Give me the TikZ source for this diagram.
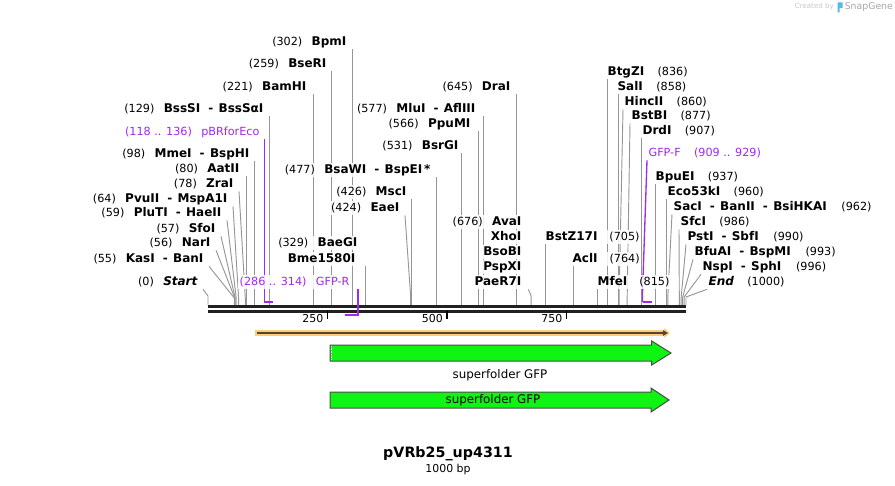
\documentclass[tikz,border=0pt]{standalone}
\usepackage{fontspec}
\setmainfont{DejaVu Sans}
\usetikzlibrary{arrows.meta,backgrounds}

\definecolor{primer}{RGB}{160,40,240}
\definecolor{sitegray}{RGB}{150,150,150}
\definecolor{featgreen}{RGB}{14,245,20}
\definecolor{orfhalo}{RGB}{255,203,125}
\definecolor{orfdark}{RGB}{85,68,51}
\definecolor{sgblue}{RGB}{80,185,240}

\newcommand{\nm}[1]{{\fontsize{9}{10}\selectfont\bfseries #1}}
\newcommand{\orsep}{\hspace{6pt}\nm{-}\hspace{4pt}}

\tikzset{
  lbl/.style={fill=white,fill opacity=0.85,text opacity=1,inner sep=1pt,
    text height=6.6pt,text depth=2pt,font=\fontsize{8.4}{10}\selectfont},
  prim/.style={lbl,text=primer},
  site/.style={draw=sitegray,line width=0.7pt},
  primln/.style={draw=primer,line width=1pt},
  primbar/.style={draw=primer,line width=1.5pt},
  backbone/.style={draw=black!87,line width=1.9pt},
  ticklbl/.style={font=\fontsize{8.2}{10}\selectfont,inner sep=0pt},
  feat/.style={fill=featgreen,draw=black!70,line width=0.75pt},
  featlbl/.style={font=\fontsize{8.9}{10}\selectfont,inner sep=0pt},
}

\begin{document}
\begin{tikzpicture}[x=0.75pt,y=-0.75pt]
\useasboundingbox (0,0) rectangle (895,485);

% backbone ends and cut sites
\coordinate (bbL) at (208,305);
\coordinate (bbR) at (686,305);
\coordinate (s0) at (208.0,305);
\coordinate (s55) at (234.3,305);
\coordinate (s56) at (234.8,305);
\coordinate (s57) at (235.2,305);
\coordinate (s59) at (236.2,305);
\coordinate (s64) at (238.6,305);
\coordinate (s78) at (245.3,305);
\coordinate (s80) at (246.2,305);
\coordinate (s98) at (254.8,305);
\coordinate (s118) at (264.4,305);
\coordinate (s129) at (269.7,305);
\coordinate (s136) at (273.0,305);
\coordinate (s221) at (313.6,305);
\coordinate (s259) at (331.8,305);
\coordinate (s286) at (344.7,305);
\coordinate (s302) at (352.4,305);
\coordinate (s314) at (358.1,305);
\coordinate (s329) at (365.3,305);
\coordinate (s424) at (410.7,305);
\coordinate (s426) at (411.6,305);
\coordinate (s477) at (436.0,305);
\coordinate (s531) at (461.8,305);
\coordinate (s566) at (478.5,305);
\coordinate (s577) at (483.8,305);
\coordinate (s645) at (516.3,305);
\coordinate (s676) at (531.1,305);
\coordinate (s705) at (545.0,305);
\coordinate (s764) at (573.2,305);
\coordinate (s815) at (597.6,305);
\coordinate (s836) at (607.6,305);
\coordinate (s858) at (618.1,305);
\coordinate (s860) at (619.1,305);
\coordinate (s877) at (627.2,305);
\coordinate (s907) at (641.5,305);
\coordinate (s909) at (642.5,305);
\coordinate (s929) at (652.1,305);
\coordinate (s937) at (655.9,305);
\coordinate (s960) at (666.9,305);
\coordinate (s962) at (667.8,305);
\coordinate (s986) at (679.3,305);
\coordinate (s990) at (681.2,305);
\coordinate (s993) at (682.7,305);
\coordinate (s996) at (684.1,305);
\coordinate (s1000) at (686.0,305);
\coordinate (tk250) at (327.5,311);
\coordinate (tk500) at (447.0,311);
\coordinate (tk750) at (566.5,311);

% left labels
\node[lbl,anchor=east] (bpmi) at (348,42) {(302)\hspace{7pt}\nm{BpmI}};
\node[lbl,anchor=east] (bseri) at (328,64) {(259)\hspace{7pt}\nm{BseRI}};
\node[lbl,anchor=east] (bamhi) at (308,87) {(221)\hspace{7pt}\nm{BamHI}};
\node[lbl,anchor=east] (bsssi) at (265,109) {(129)\hspace{7pt}\nm{BssSI}\orsep\nm{BssSαI}};
\node[prim,anchor=east] (pbr) at (261,132) {(118 .. 136)\hspace{7pt}pBRforEco};
\node[lbl,anchor=east] (mmei) at (251,154) {(98)\hspace{7pt}\nm{MmeI}\orsep\nm{BspHI}};
\node[lbl,anchor=east] (aatii) at (241,169) {(80)\hspace{7pt}\nm{AatII}};
\node[lbl,anchor=east] (zrai) at (235,184) {(78)\hspace{7pt}\nm{ZraI}};
\node[lbl,anchor=east] (pvuii) at (229,199) {(64)\hspace{7pt}\nm{PvuII}\orsep\nm{MspA1I}};
\node[lbl,anchor=east] (pluti) at (223,213) {(59)\hspace{7pt}\nm{PluTI}\orsep\nm{HaeII}};
\node[lbl,anchor=east] (sfoi) at (217,229) {(57)\hspace{7pt}\nm{SfoI}};
\node[lbl,anchor=east] (nari) at (212,243) {(56)\hspace{7pt}\nm{NarI}};
\node[lbl,anchor=east] (kasi) at (205,259) {(55)\hspace{7pt}\nm{KasI}\orsep\nm{BanI}};
\node[lbl,anchor=east] (start) at (199,282) {(0)\hspace{7pt}\nm{\itshape Start}};

% middle labels
\node[lbl,anchor=east] (drai) at (512,87) {(645)\hspace{7pt}\nm{DraI}};
\node[lbl,anchor=east] (mlui) at (477,109) {(577)\hspace{7pt}\nm{MluI}\orsep\nm{AflIII}};
\node[lbl,anchor=east] (ppumi) at (472,124) {(566)\hspace{7pt}\nm{PpuMI}};
\node[lbl,anchor=east] (bsrgi) at (460,146) {(531)\hspace{7pt}\nm{BsrGI}};
\node[lbl,anchor=east] (bsawi) at (432,170) {(477)\hspace{7pt}\nm{BsaWI}\orsep\nm{BspEI}\,\nm{*}};
\node[lbl,anchor=east] (msci) at (408,192) {(426)\hspace{7pt}\nm{MscI}};
\node[lbl,anchor=east] (eaei) at (401,208) {(424)\hspace{7pt}\nm{EaeI}};
\node[lbl,anchor=east] (baegi) at (359,243) {(329)\hspace{7pt}\nm{BaeGI}};
\node[lbl,anchor=east] (bme) at (357,259) {\nm{Bme1580I}};
\node[prim,anchor=east] (gfpr) at (351,282) {(286 .. 314)\hspace{7pt}GFP-R};
\node[lbl,anchor=east] (avai) at (523,222) {(676)\hspace{7pt}\nm{AvaI}};
\node[lbl,anchor=east] (xhoi) at (523,237) {\nm{XhoI}};
\node[lbl,anchor=east] (bsobi) at (523,252) {\nm{BsoBI}};
\node[lbl,anchor=east] (pspxi) at (523,267) {\nm{PspXI}};
\node[lbl,anchor=east] (paer) at (523,282) {\nm{PaeR7I}};
\node[lbl,anchor=west] (bstz) at (544,237) {\nm{BstZ17I}\hspace{9pt}(705)};
\node[lbl,anchor=west] (acli) at (571,259) {\nm{AclI}\hspace{9pt}(764)};
\node[lbl,anchor=west] (mfei) at (596,282) {\nm{MfeI}\hspace{9pt}(815)};

% right labels
\node[lbl,anchor=west] (btgzi) at (606,72) {\nm{BtgZI}\hspace{10pt}(836)};
\node[lbl,anchor=west] (sali) at (616,87) {\nm{SalI}\hspace{10pt}(858)};
\node[lbl,anchor=west] (hincii) at (623,102) {\nm{HincII}\hspace{10pt}(860)};
\node[lbl,anchor=west] (bstbi) at (630,116) {\nm{BstBI}\hspace{10pt}(877)};
\node[lbl,anchor=west] (drdi) at (641,131) {\nm{DrdI}\hspace{10pt}(907)};
\node[prim,anchor=west] (gfpf) at (647,153) {GFP-F\hspace{10pt}(909 .. 929)};
\node[lbl,anchor=west] (bpuei) at (654,177) {\nm{BpuEI}\hspace{10pt}(937)};
\node[lbl,anchor=west] (eco) at (666,192) {\nm{Eco53kI}\hspace{10pt}(960)};
\node[lbl,anchor=west] (saci) at (672,207) {\nm{SacI}\orsep\nm{BanII}\orsep\nm{BsiHKAI}\hspace{11pt}(962)};
\node[lbl,anchor=west] (sfci) at (679,222) {\nm{SfcI}\hspace{10pt}(986)};
\node[lbl,anchor=west] (psti) at (686,237) {\nm{PstI}\orsep\nm{SbfI}\hspace{11pt}(990)};
\node[lbl,anchor=west] (bfuai) at (693,252) {\nm{BfuAI}\orsep\nm{BspMI}\hspace{11pt}(993)};
\node[lbl,anchor=west] (nspi) at (701,267) {\nm{NspI}\orsep\nm{SphI}\hspace{11pt}(996)};
\node[lbl,anchor=west] (endl) at (707,282) {\nm{\itshape End}\hspace{10pt}(1000)};

\begin{scope}[on background layer]
% site lines
\draw[site] (s302) -- (s302 |- bpmi.south);
\draw[site] (s259) -- (s259 |- bseri.south);
\draw[site] (s221) -- (s221 |- bamhi.south);
\draw[site] (s129) -- (s129 |- bsssi.south);
\draw[site] (s98) -- (s98 |- mmei.south);
\draw[site] (s80) -- (s80 |- aatii.south);
\draw[site] (s78) -- ++(0,-7) -- ([xshift=3pt]zrai.south east);
\draw[site] (s64) -- ++(0,-7) -- ([xshift=3pt]pvuii.south east);
\draw[site] (s59) -- ++(0,-7) -- ([xshift=3pt]pluti.south east);
\draw[site] (s57) -- ++(0,-7) -- ([xshift=3pt]sfoi.south east);
\draw[site] (s56) -- ++(0,-7) -- ([xshift=3pt]nari.south east);
\draw[site] (s55) -- ++(0,-7) -- ([xshift=3pt]kasi.south east);
\draw[site] (s0) -- ++(0,-9) -- ([xshift=3pt]start.south east);
\draw[site] (s645) -- (s645 |- drai.south);
\draw[site] (s577) -- (s577 |- mlui.south);
\draw[site] (s566) -- (s566 |- ppumi.south);
\draw[site] (s531) -- (s531 |- bsrgi.south);
\draw[site] (s477) -- (s477 |- bsawi.south);
\draw[site] (s426) -- (s426 |- msci.south);
\draw[site] (s424) -- ++(0,-8) -- ([xshift=3pt]eaei.south east);
\draw[site] (s329) -- (s329 |- bme.south);
\draw[site] (s676) -- ++(0,-9) -- ([xshift=4pt]paer.south east);
\draw[site] (s705) -- (s705 |- bstz.south);
\draw[site] (s764) -- (s764 |- acli.south);
\draw[site] (s815) -- (s815 |- mfei.south);
\draw[site] (s836) -- (s836 |- btgzi.south);
\draw[site] (s858) -- (s858 |- sali.south);
\draw[site] (s860) -- ++(0,-9) -- (hincii.south west);
\draw[site] (s877) -- ++(0,-9) -- (bstbi.south west);
\draw[site] (s907) -- (s907 |- drdi.south);
\draw[site] (s937) -- (s937 |- bpuei.south);
\draw[site] (s960) -- (s960 |- eco.south);
\draw[site] (s962) -- ++(0,-8) -- (saci.south west);
\draw[site] (s986) -- ++(0,-8) -- (sfci.south west);
\draw[site] (s990) -- ++(0,-8) -- (psti.south west);
\draw[site] (s993) -- ++(0,-8) -- (bfuai.south west);
\draw[site] (s996) -- ++(0,-8) -- (nspi.south west);
\draw[site] (s1000) -- ++(0,-8) -- (endl.south west);

% backbone and ticks
\draw[backbone] ([yshift=-1.2pt]bbL) -- ([yshift=-1.2pt]bbR);
\draw[backbone] ([yshift=-4.8pt]bbL) -- ([yshift=-4.8pt]bbR);
\draw[line width=1.4pt] (tk250) -- ++(0,7.5);
\draw[line width=1.4pt] (tk500) -- ++(0,7.5);
\draw[line width=1.4pt] (tk750) -- ++(0,7.5);

% primers
\draw[primln] (s118 |- pbr.south) -- ([yshift=2.25pt]s118);
\draw[primbar] ([yshift=2.25pt]s118) -- ([yshift=2.25pt]s136);
\draw[primln] (gfpf.south west) -- ([yshift=9pt]s909) -- ([yshift=2.25pt]s909);
\draw[primbar] ([yshift=2.25pt]s909) -- ([yshift=2.25pt]s929);
\draw[primln] (s314 |- gfpr.south) -- ([yshift=-8pt]s314);
\draw[primbar] ([yshift=-7.5pt]s286) -- ([yshift=-7.5pt]s314);
\end{scope}

\node[ticklbl,anchor=east] (t250) at (323.5,319) {250};
\node[ticklbl,anchor=east] (t500) at (443,319) {500};
\node[ticklbl,anchor=east] (t750) at (562.5,319) {750};

% ORF and features
\draw[orfhalo,line width=4.2pt,-{Triangle[length=4.2pt,width=7pt]}] (254.5,333) -- (670,333);
\draw[orfdark,line width=1.2pt,-{Triangle[length=3.8pt,width=4pt]}] (256.5,333) -- (668,333);
\filldraw[feat] (330,345) -- (651.7,345) -- (651.7,341) -- (671,353) -- (651.7,365) -- (651.7,361) -- (330,361) -- cycle;
\draw[white,line width=0.6pt,dash pattern=on 0.6pt off 0.6pt] (331.5,346) -- (331.5,360);
\node[featlbl] (sfgfp1) at (500,375) {superfolder GFP};
\filldraw[feat] (330,392) -- (651,392) -- (651,388) -- (669,400) -- (651,412) -- (651,408) -- (330,408) -- cycle;
\node[featlbl] (sfgfp2) at (493,400) {superfolder GFP};

% title
\node[font=\fontsize{10.7}{12}\selectfont\bfseries,inner sep=0pt] (title) at (448,454) {pVRb25\_up4311};
\node[font=\fontsize{8.2}{10}\selectfont,inner sep=0pt] (bp) at (448,469) {1000 bp};

% watermark
\node[font=\fontsize{5.3}{6}\selectfont,text=black!22,inner sep=0pt,anchor=east] (made) at (834,7) {Created by};
\fill[sgblue] (837.5,2.5) rectangle (842.5,8) (837.5,8) rectangle (839.5,12.5);
\node[font=\fontsize{7}{8}\selectfont,text=black!35,inner sep=0pt,anchor=west] (sg) at (844.5,7) {SnapGene};
\end{tikzpicture}
\end{document}
